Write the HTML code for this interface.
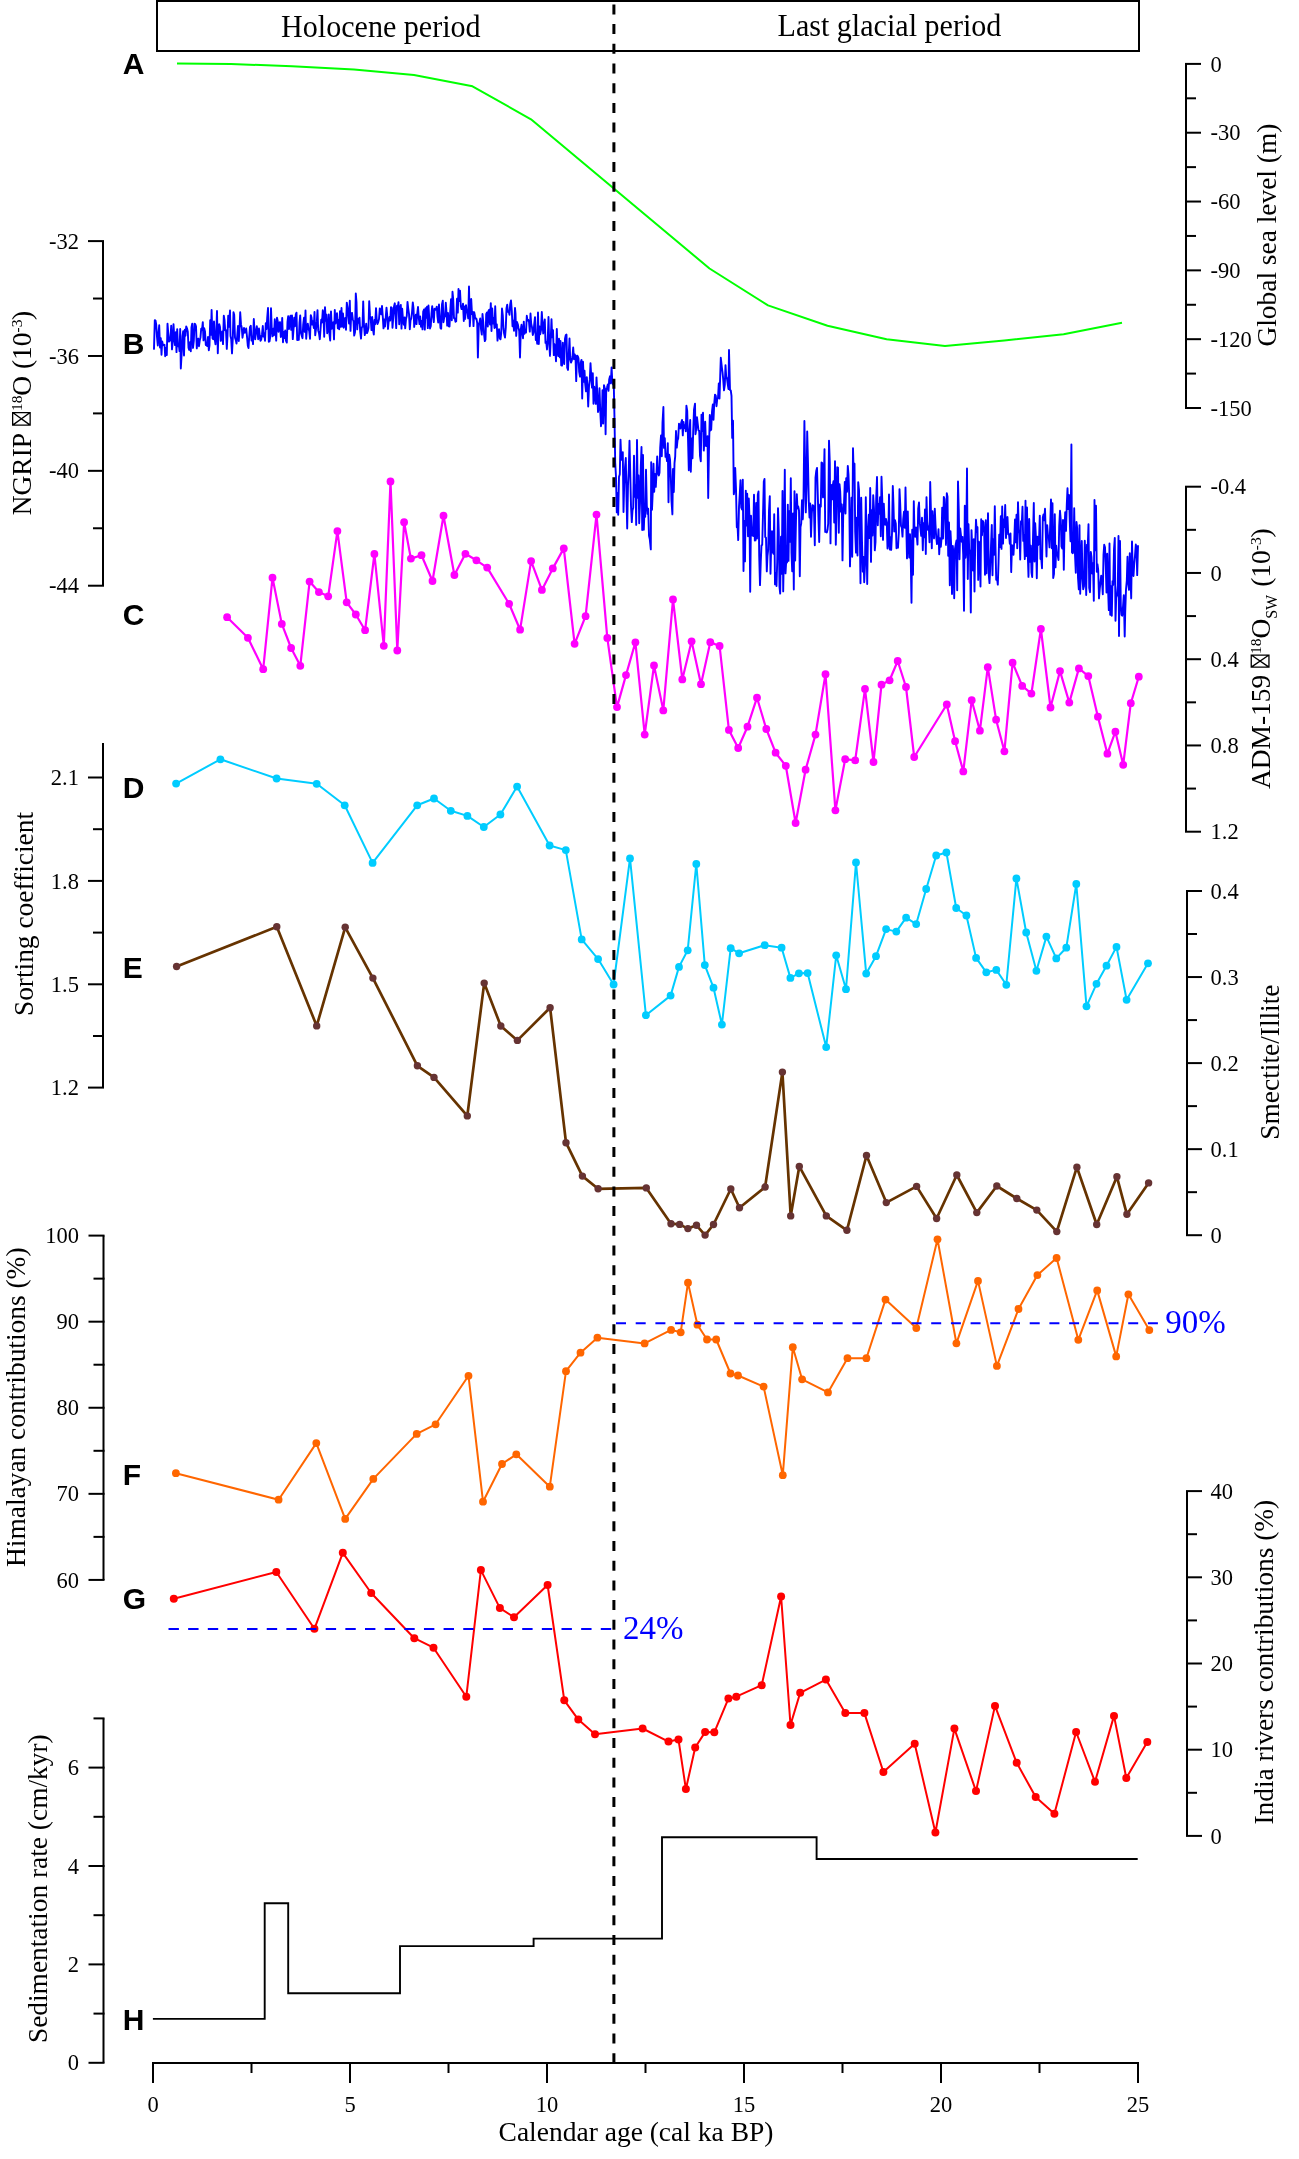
<!DOCTYPE html>
<html><head><meta charset="utf-8"><style>
html,body{margin:0;padding:0;background:#fff;overflow:hidden;}
svg{display:block;will-change:transform;}
</style></head><body>
<svg width="1299" height="2159" viewBox="0 0 1299 2159">
<rect width="100%" height="100%" fill="#fff"/>
<rect x="157" y="1" width="982" height="50" fill="none" stroke="#000" stroke-width="2"/>
<text transform="translate(281.00,37.00) scale(1.0000,1.0800)" font-family="'Liberation Serif', serif" font-size="30.1" font-weight="normal" fill="#000" text-anchor="start">Holocene period</text>
<text transform="translate(777.50,36.20) scale(1.0000,1.0800)" font-family="'Liberation Serif', serif" font-size="30.1" font-weight="normal" fill="#000" text-anchor="start">Last glacial period</text>
<line x1="1186.00" y1="63.90" x2="1186.00" y2="408.00" stroke="#000" stroke-width="2" />
<line x1="1185.00" y1="63.90" x2="1201.00" y2="63.90" stroke="#000" stroke-width="2" />
<line x1="1185.00" y1="132.72" x2="1201.00" y2="132.72" stroke="#000" stroke-width="2" />
<line x1="1185.00" y1="201.54" x2="1201.00" y2="201.54" stroke="#000" stroke-width="2" />
<line x1="1185.00" y1="270.36" x2="1201.00" y2="270.36" stroke="#000" stroke-width="2" />
<line x1="1185.00" y1="339.18" x2="1201.00" y2="339.18" stroke="#000" stroke-width="2" />
<line x1="1185.00" y1="408.00" x2="1201.00" y2="408.00" stroke="#000" stroke-width="2" />
<line x1="1185.00" y1="98.31" x2="1196.00" y2="98.31" stroke="#000" stroke-width="2" />
<line x1="1185.00" y1="167.13" x2="1196.00" y2="167.13" stroke="#000" stroke-width="2" />
<line x1="1185.00" y1="235.95" x2="1196.00" y2="235.95" stroke="#000" stroke-width="2" />
<line x1="1185.00" y1="304.77" x2="1196.00" y2="304.77" stroke="#000" stroke-width="2" />
<line x1="1185.00" y1="373.59" x2="1196.00" y2="373.59" stroke="#000" stroke-width="2" />
<text x="1210.50" y="71.50" font-family="'Liberation Serif', serif" font-size="22.5" font-weight="normal" fill="#000" text-anchor="start" >0</text>
<text x="1210.50" y="140.32" font-family="'Liberation Serif', serif" font-size="22.5" font-weight="normal" fill="#000" text-anchor="start" >-30</text>
<text x="1210.50" y="209.14" font-family="'Liberation Serif', serif" font-size="22.5" font-weight="normal" fill="#000" text-anchor="start" >-60</text>
<text x="1210.50" y="277.96" font-family="'Liberation Serif', serif" font-size="22.5" font-weight="normal" fill="#000" text-anchor="start" >-90</text>
<text x="1210.50" y="346.78" font-family="'Liberation Serif', serif" font-size="22.5" font-weight="normal" fill="#000" text-anchor="start" >-120</text>
<text x="1210.50" y="415.60" font-family="'Liberation Serif', serif" font-size="22.5" font-weight="normal" fill="#000" text-anchor="start" >-150</text>
<line x1="103.00" y1="241.10" x2="103.00" y2="585.71" stroke="#000" stroke-width="2" />
<line x1="88.00" y1="241.10" x2="104.00" y2="241.10" stroke="#000" stroke-width="2" />
<line x1="88.00" y1="355.97" x2="104.00" y2="355.97" stroke="#000" stroke-width="2" />
<line x1="88.00" y1="470.84" x2="104.00" y2="470.84" stroke="#000" stroke-width="2" />
<line x1="88.00" y1="585.71" x2="104.00" y2="585.71" stroke="#000" stroke-width="2" />
<line x1="93.00" y1="298.53" x2="104.00" y2="298.53" stroke="#000" stroke-width="2" />
<line x1="93.00" y1="413.40" x2="104.00" y2="413.40" stroke="#000" stroke-width="2" />
<line x1="93.00" y1="528.27" x2="104.00" y2="528.27" stroke="#000" stroke-width="2" />
<text x="78.90" y="248.70" font-family="'Liberation Serif', serif" font-size="22.5" font-weight="normal" fill="#000" text-anchor="end" >-32</text>
<text x="78.90" y="363.57" font-family="'Liberation Serif', serif" font-size="22.5" font-weight="normal" fill="#000" text-anchor="end" >-36</text>
<text x="78.90" y="478.44" font-family="'Liberation Serif', serif" font-size="22.5" font-weight="normal" fill="#000" text-anchor="end" >-40</text>
<text x="78.90" y="593.31" font-family="'Liberation Serif', serif" font-size="22.5" font-weight="normal" fill="#000" text-anchor="end" >-44</text>
<line x1="1186.00" y1="486.70" x2="1186.00" y2="831.70" stroke="#000" stroke-width="2" />
<line x1="1185.00" y1="486.70" x2="1201.00" y2="486.70" stroke="#000" stroke-width="2" />
<line x1="1185.00" y1="572.95" x2="1201.00" y2="572.95" stroke="#000" stroke-width="2" />
<line x1="1185.00" y1="659.20" x2="1201.00" y2="659.20" stroke="#000" stroke-width="2" />
<line x1="1185.00" y1="745.45" x2="1201.00" y2="745.45" stroke="#000" stroke-width="2" />
<line x1="1185.00" y1="831.70" x2="1201.00" y2="831.70" stroke="#000" stroke-width="2" />
<line x1="1185.00" y1="529.83" x2="1196.00" y2="529.83" stroke="#000" stroke-width="2" />
<line x1="1185.00" y1="616.08" x2="1196.00" y2="616.08" stroke="#000" stroke-width="2" />
<line x1="1185.00" y1="702.33" x2="1196.00" y2="702.33" stroke="#000" stroke-width="2" />
<line x1="1185.00" y1="788.58" x2="1196.00" y2="788.58" stroke="#000" stroke-width="2" />
<text x="1210.50" y="494.30" font-family="'Liberation Serif', serif" font-size="22.5" font-weight="normal" fill="#000" text-anchor="start" >-0.4</text>
<text x="1210.50" y="580.55" font-family="'Liberation Serif', serif" font-size="22.5" font-weight="normal" fill="#000" text-anchor="start" >0</text>
<text x="1210.50" y="666.80" font-family="'Liberation Serif', serif" font-size="22.5" font-weight="normal" fill="#000" text-anchor="start" >0.4</text>
<text x="1210.50" y="753.05" font-family="'Liberation Serif', serif" font-size="22.5" font-weight="normal" fill="#000" text-anchor="start" >0.8</text>
<text x="1210.50" y="839.30" font-family="'Liberation Serif', serif" font-size="22.5" font-weight="normal" fill="#000" text-anchor="start" >1.2</text>
<line x1="103.00" y1="743.00" x2="103.00" y2="1087.60" stroke="#000" stroke-width="2" />
<line x1="88.00" y1="777.50" x2="104.00" y2="777.50" stroke="#000" stroke-width="2" />
<line x1="88.00" y1="880.90" x2="104.00" y2="880.90" stroke="#000" stroke-width="2" />
<line x1="88.00" y1="984.30" x2="104.00" y2="984.30" stroke="#000" stroke-width="2" />
<line x1="88.00" y1="1087.60" x2="104.00" y2="1087.60" stroke="#000" stroke-width="2" />
<line x1="93.00" y1="829.20" x2="104.00" y2="829.20" stroke="#000" stroke-width="2" />
<line x1="93.00" y1="932.60" x2="104.00" y2="932.60" stroke="#000" stroke-width="2" />
<line x1="93.00" y1="1036.00" x2="104.00" y2="1036.00" stroke="#000" stroke-width="2" />
<text x="78.90" y="785.10" font-family="'Liberation Serif', serif" font-size="22.5" font-weight="normal" fill="#000" text-anchor="end" >2.1</text>
<text x="78.90" y="888.50" font-family="'Liberation Serif', serif" font-size="22.5" font-weight="normal" fill="#000" text-anchor="end" >1.8</text>
<text x="78.90" y="991.90" font-family="'Liberation Serif', serif" font-size="22.5" font-weight="normal" fill="#000" text-anchor="end" >1.5</text>
<text x="78.90" y="1095.20" font-family="'Liberation Serif', serif" font-size="22.5" font-weight="normal" fill="#000" text-anchor="end" >1.2</text>
<line x1="1187.00" y1="891.00" x2="1187.00" y2="1235.20" stroke="#000" stroke-width="2" />
<line x1="1186.00" y1="891.00" x2="1202.00" y2="891.00" stroke="#000" stroke-width="2" />
<line x1="1186.00" y1="977.05" x2="1202.00" y2="977.05" stroke="#000" stroke-width="2" />
<line x1="1186.00" y1="1063.10" x2="1202.00" y2="1063.10" stroke="#000" stroke-width="2" />
<line x1="1186.00" y1="1149.15" x2="1202.00" y2="1149.15" stroke="#000" stroke-width="2" />
<line x1="1186.00" y1="1235.20" x2="1202.00" y2="1235.20" stroke="#000" stroke-width="2" />
<line x1="1186.00" y1="934.02" x2="1197.00" y2="934.02" stroke="#000" stroke-width="2" />
<line x1="1186.00" y1="1020.08" x2="1197.00" y2="1020.08" stroke="#000" stroke-width="2" />
<line x1="1186.00" y1="1106.12" x2="1197.00" y2="1106.12" stroke="#000" stroke-width="2" />
<line x1="1186.00" y1="1192.17" x2="1197.00" y2="1192.17" stroke="#000" stroke-width="2" />
<text x="1210.50" y="898.60" font-family="'Liberation Serif', serif" font-size="22.5" font-weight="normal" fill="#000" text-anchor="start" >0.4</text>
<text x="1210.50" y="984.65" font-family="'Liberation Serif', serif" font-size="22.5" font-weight="normal" fill="#000" text-anchor="start" >0.3</text>
<text x="1210.50" y="1070.70" font-family="'Liberation Serif', serif" font-size="22.5" font-weight="normal" fill="#000" text-anchor="start" >0.2</text>
<text x="1210.50" y="1156.75" font-family="'Liberation Serif', serif" font-size="22.5" font-weight="normal" fill="#000" text-anchor="start" >0.1</text>
<text x="1210.50" y="1242.80" font-family="'Liberation Serif', serif" font-size="22.5" font-weight="normal" fill="#000" text-anchor="start" >0</text>
<line x1="103.50" y1="1235.60" x2="103.50" y2="1579.92" stroke="#000" stroke-width="2" />
<line x1="88.50" y1="1235.60" x2="104.50" y2="1235.60" stroke="#000" stroke-width="2" />
<line x1="88.50" y1="1321.68" x2="104.50" y2="1321.68" stroke="#000" stroke-width="2" />
<line x1="88.50" y1="1407.76" x2="104.50" y2="1407.76" stroke="#000" stroke-width="2" />
<line x1="88.50" y1="1493.84" x2="104.50" y2="1493.84" stroke="#000" stroke-width="2" />
<line x1="88.50" y1="1579.92" x2="104.50" y2="1579.92" stroke="#000" stroke-width="2" />
<line x1="93.50" y1="1278.64" x2="104.50" y2="1278.64" stroke="#000" stroke-width="2" />
<line x1="93.50" y1="1364.72" x2="104.50" y2="1364.72" stroke="#000" stroke-width="2" />
<line x1="93.50" y1="1450.80" x2="104.50" y2="1450.80" stroke="#000" stroke-width="2" />
<line x1="93.50" y1="1536.88" x2="104.50" y2="1536.88" stroke="#000" stroke-width="2" />
<text x="78.90" y="1243.20" font-family="'Liberation Serif', serif" font-size="22.5" font-weight="normal" fill="#000" text-anchor="end" >100</text>
<text x="78.90" y="1329.28" font-family="'Liberation Serif', serif" font-size="22.5" font-weight="normal" fill="#000" text-anchor="end" >90</text>
<text x="78.90" y="1415.36" font-family="'Liberation Serif', serif" font-size="22.5" font-weight="normal" fill="#000" text-anchor="end" >80</text>
<text x="78.90" y="1501.44" font-family="'Liberation Serif', serif" font-size="22.5" font-weight="normal" fill="#000" text-anchor="end" >70</text>
<text x="78.90" y="1587.52" font-family="'Liberation Serif', serif" font-size="22.5" font-weight="normal" fill="#000" text-anchor="end" >60</text>
<line x1="1187.00" y1="1491.10" x2="1187.00" y2="1835.90" stroke="#000" stroke-width="2" />
<line x1="1186.00" y1="1491.10" x2="1202.00" y2="1491.10" stroke="#000" stroke-width="2" />
<line x1="1186.00" y1="1577.30" x2="1202.00" y2="1577.30" stroke="#000" stroke-width="2" />
<line x1="1186.00" y1="1663.50" x2="1202.00" y2="1663.50" stroke="#000" stroke-width="2" />
<line x1="1186.00" y1="1749.70" x2="1202.00" y2="1749.70" stroke="#000" stroke-width="2" />
<line x1="1186.00" y1="1835.90" x2="1202.00" y2="1835.90" stroke="#000" stroke-width="2" />
<line x1="1186.00" y1="1534.20" x2="1197.00" y2="1534.20" stroke="#000" stroke-width="2" />
<line x1="1186.00" y1="1620.40" x2="1197.00" y2="1620.40" stroke="#000" stroke-width="2" />
<line x1="1186.00" y1="1706.60" x2="1197.00" y2="1706.60" stroke="#000" stroke-width="2" />
<line x1="1186.00" y1="1792.80" x2="1197.00" y2="1792.80" stroke="#000" stroke-width="2" />
<text x="1210.50" y="1498.70" font-family="'Liberation Serif', serif" font-size="22.5" font-weight="normal" fill="#000" text-anchor="start" >40</text>
<text x="1210.50" y="1584.90" font-family="'Liberation Serif', serif" font-size="22.5" font-weight="normal" fill="#000" text-anchor="start" >30</text>
<text x="1210.50" y="1671.10" font-family="'Liberation Serif', serif" font-size="22.5" font-weight="normal" fill="#000" text-anchor="start" >20</text>
<text x="1210.50" y="1757.30" font-family="'Liberation Serif', serif" font-size="22.5" font-weight="normal" fill="#000" text-anchor="start" >10</text>
<text x="1210.50" y="1843.50" font-family="'Liberation Serif', serif" font-size="22.5" font-weight="normal" fill="#000" text-anchor="start" >0</text>
<line x1="103.50" y1="1718.40" x2="103.50" y2="2062.80" stroke="#000" stroke-width="2" />
<line x1="88.50" y1="2062.80" x2="104.50" y2="2062.80" stroke="#000" stroke-width="2" />
<line x1="88.50" y1="1964.40" x2="104.50" y2="1964.40" stroke="#000" stroke-width="2" />
<line x1="88.50" y1="1866.00" x2="104.50" y2="1866.00" stroke="#000" stroke-width="2" />
<line x1="88.50" y1="1767.60" x2="104.50" y2="1767.60" stroke="#000" stroke-width="2" />
<line x1="93.50" y1="2013.60" x2="104.50" y2="2013.60" stroke="#000" stroke-width="2" />
<line x1="93.50" y1="1915.20" x2="104.50" y2="1915.20" stroke="#000" stroke-width="2" />
<line x1="93.50" y1="1816.80" x2="104.50" y2="1816.80" stroke="#000" stroke-width="2" />
<line x1="93.50" y1="1718.40" x2="104.50" y2="1718.40" stroke="#000" stroke-width="2" />
<text x="78.90" y="2070.40" font-family="'Liberation Serif', serif" font-size="22.5" font-weight="normal" fill="#000" text-anchor="end" >0</text>
<text x="78.90" y="1972.00" font-family="'Liberation Serif', serif" font-size="22.5" font-weight="normal" fill="#000" text-anchor="end" >2</text>
<text x="78.90" y="1873.60" font-family="'Liberation Serif', serif" font-size="22.5" font-weight="normal" fill="#000" text-anchor="end" >4</text>
<text x="78.90" y="1775.20" font-family="'Liberation Serif', serif" font-size="22.5" font-weight="normal" fill="#000" text-anchor="end" >6</text>
<line x1="153.00" y1="2063.00" x2="1138.00" y2="2063.00" stroke="#000" stroke-width="2" />
<line x1="153.00" y1="2062.00" x2="153.00" y2="2083.00" stroke="#000" stroke-width="2" />
<text x="153.00" y="2112.30" font-family="'Liberation Serif', serif" font-size="22.5" font-weight="normal" fill="#000" text-anchor="middle" >0</text>
<line x1="350.00" y1="2062.00" x2="350.00" y2="2083.00" stroke="#000" stroke-width="2" />
<text x="350.00" y="2112.30" font-family="'Liberation Serif', serif" font-size="22.5" font-weight="normal" fill="#000" text-anchor="middle" >5</text>
<line x1="547.00" y1="2062.00" x2="547.00" y2="2083.00" stroke="#000" stroke-width="2" />
<text x="547.00" y="2112.30" font-family="'Liberation Serif', serif" font-size="22.5" font-weight="normal" fill="#000" text-anchor="middle" >10</text>
<line x1="744.00" y1="2062.00" x2="744.00" y2="2083.00" stroke="#000" stroke-width="2" />
<text x="744.00" y="2112.30" font-family="'Liberation Serif', serif" font-size="22.5" font-weight="normal" fill="#000" text-anchor="middle" >15</text>
<line x1="941.00" y1="2062.00" x2="941.00" y2="2083.00" stroke="#000" stroke-width="2" />
<text x="941.00" y="2112.30" font-family="'Liberation Serif', serif" font-size="22.5" font-weight="normal" fill="#000" text-anchor="middle" >20</text>
<line x1="1138.00" y1="2062.00" x2="1138.00" y2="2083.00" stroke="#000" stroke-width="2" />
<text x="1138.00" y="2112.30" font-family="'Liberation Serif', serif" font-size="22.5" font-weight="normal" fill="#000" text-anchor="middle" >25</text>
<line x1="251.50" y1="2062.00" x2="251.50" y2="2073.00" stroke="#000" stroke-width="2" />
<line x1="448.50" y1="2062.00" x2="448.50" y2="2073.00" stroke="#000" stroke-width="2" />
<line x1="645.50" y1="2062.00" x2="645.50" y2="2073.00" stroke="#000" stroke-width="2" />
<line x1="842.50" y1="2062.00" x2="842.50" y2="2073.00" stroke="#000" stroke-width="2" />
<line x1="1039.50" y1="2062.00" x2="1039.50" y2="2073.00" stroke="#000" stroke-width="2" />
<text x="636.00" y="2140.50" font-family="'Liberation Serif', serif" font-size="27.5" font-weight="normal" fill="#000" text-anchor="middle" >Calendar age (cal ka BP)</text>
<g transform="translate(30.80,0) rotate(-90)" font-family="'Liberation Serif', serif" fill="#000"><text x="-515.19" y="0.00" font-size="27.4">NGRIP</text><text x="-410.96" y="-8.80" font-size="15.5">18</text><text x="-395.82" y="0.00" font-size="27.4">O</text><text x="-369.00" y="0.00" font-size="27.4">(10</text><text x="-332.38" y="-8.80" font-size="15.5">-3</text><text x="-319.98" y="0.00" font-size="27.4">)</text><path d="M-425.15,-18.15 H-412.55 V-0.65 H-425.15 Z M-425.15,-18.15 L-412.55,-0.65 M-425.15,-0.65 L-412.55,-18.15" fill="none" stroke="#000" stroke-width="1.3"/></g>
<g transform="translate(1269.60,0) rotate(-90)" font-family="'Liberation Serif', serif" fill="#000"><text x="-788.97" y="0.00" font-size="27.4">ADM-159</text><text x="-653.96" y="-8.80" font-size="15.5">18</text><text x="-638.52" y="0.00" font-size="27.4">O</text><text x="-618.87" y="7.30" font-size="16">SW</text><text x="-586.80" y="0.00" font-size="27.4">(10</text><text x="-550.18" y="-8.80" font-size="15.5">-3</text><text x="-537.58" y="0.00" font-size="27.4">)</text><path d="M-667.15,-18.35 H-655.05 V-0.65 H-667.15 Z M-667.15,-18.35 L-655.05,-0.65 M-667.15,-0.65 L-655.05,-18.35" fill="none" stroke="#000" stroke-width="1.3"/></g>
<text transform="translate(32.90,914.05) rotate(-90)" font-family="'Liberation Serif', serif" font-size="27.4" text-anchor="middle" fill="#000">Sorting coefficient</text>
<text transform="translate(25.00,1407.20) rotate(-90)" font-family="'Liberation Serif', serif" font-size="27.4" text-anchor="middle" fill="#000">Himalayan contributions (%)</text>
<text transform="translate(47.00,1888.70) rotate(-90)" font-family="'Liberation Serif', serif" font-size="27.4" text-anchor="middle" fill="#000">Sedimentation rate (cm/kyr)</text>
<text transform="translate(1275.50,235.10) rotate(-90)" font-family="'Liberation Serif', serif" font-size="27.4" text-anchor="middle" fill="#000">Global sea level (m)</text>
<text transform="translate(1279.30,1062.10) rotate(-90)" font-family="'Liberation Serif', serif" font-size="27.4" text-anchor="middle" fill="#000">Smectite/Illite</text>
<text transform="translate(1273.10,1662.20) rotate(-90)" font-family="'Liberation Serif', serif" font-size="27.4" text-anchor="middle" fill="#000">India rivers contributions (%)</text>
<text x="122.80" y="73.80" font-family="'Liberation Sans', sans-serif" font-size="30" font-weight="bold" fill="#000" text-anchor="start" >A</text>
<text x="122.80" y="353.80" font-family="'Liberation Sans', sans-serif" font-size="30" font-weight="bold" fill="#000" text-anchor="start" >B</text>
<text x="122.80" y="624.60" font-family="'Liberation Sans', sans-serif" font-size="30" font-weight="bold" fill="#000" text-anchor="start" >C</text>
<text x="122.80" y="797.90" font-family="'Liberation Sans', sans-serif" font-size="30" font-weight="bold" fill="#000" text-anchor="start" >D</text>
<text x="122.80" y="977.70" font-family="'Liberation Sans', sans-serif" font-size="30" font-weight="bold" fill="#000" text-anchor="start" >E</text>
<text x="122.80" y="1485.00" font-family="'Liberation Sans', sans-serif" font-size="30" font-weight="bold" fill="#000" text-anchor="start" >F</text>
<text x="122.80" y="1608.50" font-family="'Liberation Sans', sans-serif" font-size="30" font-weight="bold" fill="#000" text-anchor="start" >G</text>
<text x="122.80" y="2029.70" font-family="'Liberation Sans', sans-serif" font-size="30" font-weight="bold" fill="#000" text-anchor="start" >H</text>
<polyline points="177.0,63.5 231.0,64.0 292.0,66.3 354.0,69.4 414.0,75.0 472.5,86.3 531.0,119.3 709.5,268.5 768.0,305.4 827.5,325.7 886.6,339.2 945.0,346.0 1004.3,340.5 1063.6,334.2 1122.0,322.7" fill="none" stroke="#00FF00" stroke-width="2" stroke-linejoin="round"  stroke-linecap="butt"/>
<polyline points="154.0,348.9 154.8,320.1 155.5,320.5 156.2,324.3 157.0,336.9 157.8,345.5 158.5,333.4 159.2,325.3 160.0,347.5 160.8,338.3 161.5,354.8 162.2,341.4 163.0,345.2 163.8,345.0 164.5,344.8 165.2,356.2 166.0,348.0 166.8,355.1 167.5,323.7 168.2,332.5 169.0,341.6 169.8,340.6 170.5,337.4 171.2,325.8 172.0,349.4 172.8,341.5 173.5,324.1 174.2,335.6 175.0,345.1 175.8,332.2 176.5,352.1 177.2,329.1 178.0,346.3 178.8,343.8 179.5,351.1 180.2,329.0 180.8,368.5 181.8,351.1 182.5,336.1 183.2,331.1 184.0,355.5 184.8,329.8 185.5,335.8 186.2,326.5 187.0,328.3 187.8,331.8 188.5,347.6 189.2,349.9 190.0,342.3 190.8,351.2 191.5,327.1 192.2,323.8 193.0,348.0 193.8,340.9 194.5,323.7 195.2,324.1 196.0,326.4 196.8,348.4 197.5,339.2 198.2,338.6 199.0,346.2 199.8,340.2 200.5,337.2 201.2,328.7 202.0,330.1 202.8,322.1 203.5,340.4 204.2,328.3 205.0,331.4 205.8,345.0 206.5,344.8 207.2,346.1 208.0,337.0 208.8,350.3 209.5,345.3 210.2,320.2 211.0,334.7 211.6,310.0 212.5,338.2 213.2,339.2 214.0,321.4 214.8,339.6 215.5,344.4 216.2,334.4 217.0,311.0 217.8,353.2 218.5,331.8 219.2,324.1 220.0,327.0 220.8,340.9 221.5,334.0 222.2,331.4 223.0,344.1 223.8,315.7 224.5,319.8 225.2,330.3 226.0,330.2 226.8,348.9 227.5,335.8 228.2,315.8 229.0,326.9 230.0,310.5 230.5,336.1 231.2,338.9 232.0,353.4 232.8,338.3 233.5,312.3 234.2,314.8 235.0,337.8 235.8,340.1 236.5,343.6 237.2,336.1 238.0,326.0 238.8,341.0 239.5,329.2 240.2,312.2 241.0,324.4 241.8,327.9 242.5,337.7 243.2,332.7 244.0,327.9 244.8,332.9 245.5,331.6 246.2,328.5 247.0,336.7 247.8,345.7 248.5,348.1 249.2,337.0 250.0,327.1 250.8,325.8 251.5,340.5 252.2,336.8 253.0,344.1 253.8,319.0 254.5,329.7 255.2,339.3 256.0,332.1 256.8,326.1 257.5,331.7 258.2,339.2 259.0,328.5 259.8,336.0 260.5,340.9 261.2,339.5 262.0,334.4 262.8,326.0 263.5,336.6 264.2,333.5 265.0,340.7 265.8,323.1 266.5,329.1 267.2,318.0 268.0,308.0 268.8,341.8 269.5,341.4 270.2,337.2 271.0,308.2 271.8,330.0 272.5,336.3 273.2,328.7 274.0,335.2 274.8,319.3 275.5,328.2 276.2,340.6 277.0,317.8 277.8,321.5 278.5,331.7 279.2,322.9 280.0,322.1 280.8,337.0 281.5,333.9 282.2,317.9 283.0,342.2 283.8,332.0 284.5,338.1 285.2,330.5 286.0,340.9 286.8,342.6 287.5,321.8 288.2,316.1 289.0,329.0 289.8,319.5 290.5,315.7 291.2,329.9 292.0,315.5 292.8,339.1 293.5,329.7 294.2,317.7 295.0,326.2 295.8,314.1 296.5,312.7 297.2,340.1 298.0,339.1 298.8,339.9 299.5,322.9 300.2,315.4 301.0,333.2 301.8,335.9 302.5,338.2 303.2,324.6 304.0,317.8 304.8,331.9 305.5,310.5 306.2,338.7 307.0,328.2 307.8,323.7 308.5,328.3 309.2,331.0 310.0,338.7 310.8,315.1 311.5,317.5 312.2,324.6 313.0,321.2 313.8,328.0 314.5,312.0 315.2,335.3 316.0,328.9 316.8,321.9 317.5,310.1 318.2,330.4 319.0,333.2 319.8,339.3 320.5,329.6 321.2,319.8 322.0,322.5 322.8,310.2 323.5,315.9 324.2,336.7 325.0,307.3 325.8,320.8 326.5,314.7 327.2,333.2 328.0,330.3 328.8,314.5 329.5,334.7 330.2,340.5 331.0,311.4 331.8,328.7 332.5,323.1 333.2,322.3 334.0,339.4 334.8,310.0 335.5,323.6 336.2,319.1 337.0,313.2 337.8,328.2 338.5,320.3 339.2,329.3 340.0,311.1 340.8,326.7 341.5,308.0 342.2,326.6 343.0,313.5 343.8,327.7 344.5,322.5 345.2,318.0 346.0,329.7 346.8,302.6 347.5,307.2 348.2,314.6 349.0,323.5 349.8,300.8 350.5,330.9 351.2,314.1 352.0,312.9 352.8,319.2 353.5,321.4 354.2,335.6 355.0,332.3 355.8,293.5 356.5,302.4 357.2,329.4 358.0,318.9 358.8,322.9 359.5,317.6 360.2,331.7 361.0,338.6 361.8,327.3 362.5,326.8 363.2,301.4 364.0,325.2 364.8,335.1 365.5,330.2 366.2,323.7 367.0,333.1 367.8,331.1 368.5,327.8 369.2,301.2 370.0,315.9 370.8,319.9 371.5,330.1 372.2,317.0 373.0,329.7 373.8,334.6 374.5,320.0 375.2,324.3 376.0,308.1 376.8,320.5 377.5,324.0 378.2,322.2 379.0,319.0 379.8,308.4 380.5,311.7 381.2,314.3 382.0,306.0 382.8,316.9 383.5,328.4 384.2,319.4 385.0,326.6 385.8,316.6 386.5,307.6 387.2,315.2 388.0,329.0 388.8,320.0 389.5,317.0 390.2,320.6 391.0,307.1 391.8,308.0 392.5,327.8 393.2,317.9 394.0,306.5 394.8,303.3 395.5,315.3 396.2,328.1 397.0,305.7 397.8,308.0 398.5,302.2 399.2,324.3 400.0,308.1 400.8,304.9 401.5,328.6 402.2,308.7 403.0,319.7 403.8,324.7 404.5,317.4 405.2,328.4 406.0,319.2 406.8,315.8 407.5,301.9 408.2,308.3 409.0,313.9 409.8,329.2 410.5,320.4 411.2,318.7 412.0,312.5 412.8,302.4 413.5,308.0 414.2,327.0 415.0,320.7 415.8,314.8 416.5,324.1 417.2,313.9 418.0,307.0 418.8,318.1 419.5,324.1 420.2,316.5 421.0,326.7 421.8,320.9 422.5,329.4 423.2,311.6 424.0,309.6 424.8,329.6 425.5,308.2 426.2,317.9 427.0,306.7 427.8,328.1 428.5,305.5 429.2,317.8 430.0,328.5 430.8,325.9 431.5,313.5 432.2,306.1 433.0,315.5 433.8,322.1 434.5,308.7 435.2,309.9 436.0,309.1 436.8,306.6 437.5,316.9 438.2,322.5 439.0,304.5 439.8,317.4 440.5,328.1 441.2,328.7 442.0,304.2 442.8,300.7 443.5,322.2 444.2,317.4 445.0,316.2 445.8,302.7 446.5,311.7 447.2,325.6 448.0,313.0 448.8,326.4 449.5,326.6 450.2,311.7 451.0,299.2 451.8,320.3 452.5,291.8 453.2,299.0 454.0,318.3 454.8,318.5 455.5,321.7 456.2,321.2 457.0,298.7 457.8,312.6 458.5,289.0 459.2,301.1 460.0,290.6 460.8,306.0 461.5,309.0 462.2,308.8 463.0,303.6 463.8,321.0 464.5,306.5 465.2,318.9 466.0,305.1 466.8,312.1 467.5,312.7 468.2,318.4 469.0,286.4 469.8,326.3 470.5,315.0 471.2,299.0 472.0,314.1 472.8,311.8 473.5,326.1 474.2,312.1 475.0,316.2 475.8,318.8 476.5,318.9 477.2,323.1 477.9,357.5 478.8,323.7 479.5,322.5 480.2,318.5 481.0,329.0 481.8,334.6 482.5,314.0 483.2,321.5 484.0,333.3 484.8,341.1 485.5,339.5 486.2,314.2 487.0,312.4 487.8,326.5 488.5,311.0 489.2,309.7 490.0,324.5 490.8,303.1 491.5,331.0 492.2,308.4 493.0,323.6 493.8,317.9 494.5,328.0 495.2,306.3 496.0,327.3 496.8,324.4 497.5,340.6 498.2,332.4 499.0,329.1 499.8,338.4 500.5,339.3 501.2,333.5 502.0,308.5 502.8,315.4 503.5,329.0 504.2,334.1 505.0,337.6 505.8,327.5 506.5,308.1 507.2,304.7 508.0,311.8 508.8,311.8 509.5,314.9 510.2,304.1 511.0,300.5 511.8,311.0 512.5,326.2 513.2,320.7 514.0,330.7 515.0,308.0 515.5,313.6 516.2,335.9 517.0,322.0 517.8,324.3 518.5,327.9 519.2,330.7 520.0,357.5 520.8,329.4 521.5,324.8 522.2,331.8 523.0,338.2 523.8,321.6 524.5,333.9 525.2,330.3 526.0,332.6 526.8,315.8 527.5,320.6 528.2,319.7 529.0,322.0 529.8,331.6 530.5,313.5 531.2,323.8 532.0,327.3 532.8,335.0 533.5,332.8 534.2,324.3 535.0,317.1 535.8,340.0 536.5,335.8 537.2,343.7 538.0,312.5 538.8,344.0 539.5,326.5 540.2,334.4 541.0,330.2 541.8,312.0 542.5,323.1 543.2,333.5 544.0,324.3 544.8,319.4 545.5,342.9 546.2,341.7 547.0,349.5 547.8,337.8 548.5,317.0 549.2,342.4 550.0,355.9 550.8,337.3 551.5,319.3 552.2,337.3 553.0,330.1 553.8,355.1 554.5,344.3 555.2,348.8 556.0,361.3 556.8,328.9 557.5,349.0 558.2,356.0 559.0,338.7 559.8,357.4 560.5,341.0 561.2,365.3 562.0,365.6 562.8,342.6 563.5,359.5 564.2,364.1 565.0,338.7 565.8,335.0 566.5,334.6 567.2,367.7 568.0,369.9 568.8,353.0 569.5,338.5 570.2,358.5 571.0,362.6 571.8,360.6 572.5,356.5 573.2,347.5 574.0,359.2 574.8,354.4 575.5,356.9 576.2,381.1 577.0,355.6 577.8,356.2 578.5,358.2 579.2,371.9 580.0,376.7 580.8,362.2 581.5,359.9 582.2,398.6 583.0,361.8 583.8,381.8 584.5,370.6 585.2,383.9 586.0,391.3 586.8,377.1 587.5,387.4 588.2,406.5 589.0,386.6 589.8,379.4 590.5,363.1 591.2,375.0 592.0,387.6 592.8,373.3 593.5,403.8 594.2,386.7 595.0,394.3 595.8,403.9 596.5,377.4 597.2,392.0 598.0,412.0 598.8,407.1 599.5,388.3 600.2,409.6 601.0,426.2 601.8,419.7 602.5,390.3 603.2,423.6 604.0,385.1 604.8,388.5 605.6,434.3 606.2,390.3 607.0,387.6 607.8,384.5 608.5,390.9 609.2,379.4 610.0,376.3 610.8,383.4 611.6,367.4 612.2,379.8 613.0,384.3 613.8,385.4 614.5,418.8 615.2,462.6 616.0,476.7 616.8,512.4 617.5,493.2 618.2,514.8 619.0,476.9 619.8,474.3 620.5,439.6 621.2,457.1 622.0,460.0 622.8,452.2 623.5,512.0 624.2,484.6 625.0,467.6 625.8,458.0 626.5,497.4 627.2,528.6 628.0,485.4 628.8,468.5 629.5,440.8 630.2,470.4 631.0,506.0 631.8,522.1 632.5,510.5 633.2,507.8 634.0,455.6 634.8,496.9 635.5,485.6 636.2,524.9 637.0,439.9 637.8,497.9 638.5,475.4 639.2,523.3 640.0,503.5 640.8,466.8 641.5,447.0 642.2,530.1 643.0,454.9 643.8,529.7 644.5,509.4 645.2,516.7 646.0,469.8 646.8,505.6 647.5,513.9 648.2,508.8 649.0,535.8 649.8,539.4 650.8,549.4 651.2,462.3 652.0,509.8 652.8,490.7 653.5,463.7 654.2,491.8 655.0,473.9 655.8,486.9 656.5,473.4 657.2,456.4 658.0,473.1 658.8,475.4 659.5,472.7 660.2,447.7 661.0,435.5 661.8,456.2 662.5,422.9 663.4,407.0 664.0,447.9 664.8,438.3 665.5,456.9 666.2,454.2 667.0,461.1 667.8,443.1 668.5,502.3 669.2,454.7 670.0,459.4 670.8,476.4 671.5,501.0 672.4,514.4 673.0,468.9 673.8,492.1 674.5,463.2 675.2,456.3 676.0,431.0 676.8,447.6 677.5,440.3 678.2,438.4 679.0,423.6 679.8,427.3 680.5,428.5 681.2,422.7 682.0,419.9 682.8,435.4 683.5,421.9 684.2,428.0 685.0,425.2 685.8,431.3 686.4,405.7 687.2,410.8 688.0,438.5 688.8,470.2 689.5,431.4 690.2,420.0 690.8,471.7 691.8,438.5 692.5,458.3 693.2,430.9 694.0,409.7 695.0,403.6 695.5,434.2 696.2,429.2 697.0,417.3 697.8,424.3 698.5,430.5 699.2,430.6 700.0,455.9 700.8,461.3 701.5,414.6 702.2,431.0 703.0,412.7 703.8,450.6 704.5,438.9 705.2,421.7 706.0,446.0 706.8,446.0 707.5,436.1 708.2,498.0 709.0,448.6 709.8,415.0 710.5,430.5 711.2,429.6 712.0,411.6 712.8,404.5 713.5,419.7 714.2,404.2 715.0,394.6 715.8,395.7 716.5,406.2 717.2,399.2 718.0,397.7 718.8,383.4 719.5,398.5 720.2,376.1 720.8,357.8 721.8,366.8 722.5,372.1 723.2,379.4 724.0,390.4 724.8,384.8 725.5,365.1 726.2,376.6 727.0,378.7 727.8,384.5 728.5,389.0 729.0,350.0 730.0,390.0 730.8,390.6 731.5,395.9 732.2,437.9 733.0,420.8 733.8,494.3 734.5,490.1 735.2,468.0 736.0,488.7 736.8,527.3 737.5,525.0 738.2,540.1 739.0,507.0 739.8,493.2 740.5,480.1 741.2,507.3 742.0,509.4 742.8,479.8 743.5,571.1 744.2,521.0 745.0,561.4 745.8,490.6 746.5,525.5 747.2,493.7 748.0,536.3 748.8,498.5 749.5,518.5 750.2,591.8 751.0,515.7 751.8,535.3 752.5,532.7 753.2,536.0 754.0,494.8 754.8,540.5 755.5,540.4 756.2,502.9 757.0,538.6 757.8,494.8 758.5,491.5 759.2,555.8 760.0,585.1 760.8,561.0 761.5,545.3 762.2,545.0 763.0,514.6 763.8,481.4 764.5,479.0 765.2,537.1 766.0,537.7 766.8,571.4 767.5,555.8 768.2,549.7 769.0,510.5 769.8,496.1 770.5,573.7 771.2,544.9 772.0,531.3 772.8,552.4 773.5,553.7 774.2,514.3 775.0,584.4 775.8,572.9 776.5,586.0 777.2,562.3 778.0,508.2 778.8,532.4 779.5,587.0 780.2,593.6 781.0,536.8 781.8,573.7 782.5,491.0 783.2,591.4 784.0,547.2 784.8,469.8 785.5,573.4 786.2,561.2 787.0,562.5 787.8,504.6 788.5,560.9 789.2,511.1 790.0,541.7 790.8,478.2 791.5,552.9 792.2,571.2 793.0,513.4 793.8,589.6 794.5,491.2 795.2,560.5 796.0,519.9 796.8,494.1 797.5,508.4 798.2,506.5 799.0,510.5 799.8,576.3 800.5,527.0 801.2,523.6 802.0,500.1 802.8,519.4 803.5,499.8 804.4,421.0 805.0,459.6 805.8,512.4 806.5,487.4 807.2,431.5 808.0,463.0 808.8,501.8 809.5,517.5 810.2,503.5 811.0,536.8 811.8,513.3 812.5,505.1 813.2,505.5 814.0,510.6 814.8,545.3 815.5,477.7 816.2,471.3 817.0,467.9 817.8,496.0 818.5,520.2 819.2,542.0 820.0,504.4 820.8,506.7 821.5,462.4 822.2,462.9 823.0,497.4 823.8,479.5 824.5,449.1 825.2,531.9 826.0,532.0 826.8,532.5 827.5,529.8 828.2,523.5 829.0,440.6 829.8,462.7 830.5,543.4 831.2,485.0 832.0,499.4 832.8,485.3 833.5,481.1 834.2,522.6 835.0,461.3 835.8,544.8 836.5,511.6 837.2,467.3 838.0,467.6 838.8,532.8 839.5,484.1 840.2,491.4 841.0,511.7 841.8,504.4 842.5,560.4 843.2,516.1 844.0,504.2 844.8,481.9 845.5,513.6 846.2,478.1 847.0,491.8 847.8,465.9 848.5,474.7 849.2,495.1 850.0,566.4 850.8,530.1 851.5,497.8 852.2,556.7 853.0,448.3 853.8,478.3 854.5,463.7 855.2,531.7 856.0,552.6 856.8,517.6 857.5,555.6 858.2,482.2 859.0,489.9 859.8,530.7 860.5,583.3 861.2,497.8 862.0,541.4 862.8,571.6 863.5,557.0 864.2,582.3 865.0,565.6 865.8,497.2 866.5,537.8 867.2,584.1 868.0,531.0 868.8,514.8 869.5,538.1 870.2,488.0 871.0,561.9 871.8,510.1 872.5,535.5 873.2,495.3 874.0,508.7 874.8,550.3 875.5,542.2 876.2,498.2 877.0,477.0 877.8,525.3 878.5,503.9 879.2,513.9 880.0,497.3 880.8,536.2 881.5,476.7 882.2,497.9 883.0,539.9 883.8,503.6 884.5,519.9 885.2,524.9 886.0,518.9 886.8,523.3 887.5,548.5 888.2,543.8 889.0,494.4 889.8,549.5 890.5,537.2 891.2,549.9 892.0,533.5 892.8,486.0 893.5,505.9 894.2,531.5 895.0,520.1 895.8,523.7 896.5,548.2 897.2,547.2 898.0,547.7 898.8,532.5 899.5,489.1 900.2,503.7 901.0,525.8 901.8,527.5 902.5,536.6 903.2,519.4 904.0,511.7 904.8,527.7 905.5,487.4 906.2,522.1 907.0,558.4 907.8,511.4 908.5,543.2 909.2,557.5 910.0,534.3 910.8,561.7 911.5,602.8 912.2,529.7 913.0,574.7 913.8,501.3 914.5,531.7 915.2,536.9 916.0,527.4 916.8,536.2 917.5,544.6 918.2,508.7 919.0,502.5 919.8,523.4 920.5,529.1 921.2,535.9 922.0,517.8 922.8,550.3 923.5,523.1 924.2,537.4 925.0,509.4 925.8,554.1 926.5,497.1 927.2,521.6 928.0,529.8 928.8,526.8 929.5,542.3 930.2,481.9 931.0,513.9 931.8,548.2 932.5,511.2 933.2,526.1 934.0,538.4 934.8,508.8 935.5,524.6 936.2,537.1 937.0,544.1 937.8,540.5 938.5,529.2 939.2,554.3 940.0,538.1 940.8,546.8 941.5,539.0 942.2,507.6 943.0,538.6 943.8,496.9 944.5,499.0 945.2,515.6 946.0,544.9 946.8,493.3 947.5,496.6 948.2,555.7 949.0,522.4 949.8,585.3 950.5,531.1 951.2,546.6 952.0,594.0 952.8,545.9 953.5,555.8 954.2,598.3 955.0,549.0 955.8,543.9 956.5,540.4 957.2,590.2 958.0,481.5 958.8,510.9 959.5,559.3 960.2,528.4 961.0,535.7 961.8,541.8 962.5,536.9 963.2,554.8 964.0,610.8 964.8,505.7 965.5,557.7 966.2,549.5 967.0,468.5 967.8,579.0 968.5,524.3 969.2,549.9 970.0,550.6 970.8,612.6 971.5,530.1 972.2,546.8 973.0,570.5 973.8,539.3 974.5,591.6 975.2,543.8 976.0,519.7 976.8,531.7 977.5,527.3 978.2,579.9 979.0,541.7 979.8,553.8 980.5,586.6 981.2,519.3 982.0,535.2 982.8,520.9 983.5,522.3 984.2,532.7 985.0,574.7 985.8,520.1 986.5,573.3 987.2,551.2 988.0,513.2 988.8,574.8 989.5,583.1 990.2,568.5 991.0,546.0 991.8,524.9 992.5,575.3 993.2,539.5 994.0,554.7 994.8,506.3 995.5,546.7 996.2,579.8 997.0,577.6 997.8,584.6 998.5,563.7 999.2,534.7 1000.0,547.1 1000.8,516.2 1001.5,548.9 1002.2,506.5 1003.0,543.6 1003.8,519.4 1004.5,527.1 1005.2,504.9 1006.0,538.0 1006.8,517.3 1007.5,517.0 1008.2,534.2 1009.0,534.2 1009.8,543.7 1010.5,533.5 1011.2,572.1 1012.0,545.1 1012.8,548.0 1013.5,554.7 1014.2,541.5 1015.0,519.5 1015.8,542.4 1016.5,514.8 1017.2,548.2 1018.0,502.3 1018.8,529.5 1019.5,533.3 1020.2,559.5 1021.0,521.1 1021.8,523.5 1022.5,506.7 1023.2,540.9 1024.0,535.2 1024.8,559.1 1025.5,500.8 1026.2,556.1 1027.0,507.4 1027.8,555.1 1028.5,576.9 1029.2,519.0 1030.0,561.7 1030.8,545.6 1031.5,572.6 1032.2,577.0 1033.0,538.1 1033.8,502.9 1034.5,561.5 1035.2,523.2 1036.0,538.6 1036.8,578.3 1037.5,536.7 1038.2,545.1 1039.0,542.1 1039.8,515.6 1040.5,559.1 1041.2,557.9 1042.0,568.2 1042.8,517.4 1043.5,514.5 1044.2,520.3 1045.0,508.8 1045.8,534.3 1046.5,556.5 1047.2,525.2 1048.0,535.9 1048.8,537.8 1049.5,547.4 1050.2,525.1 1051.0,499.4 1051.8,548.3 1052.5,503.3 1053.2,578.0 1054.0,573.8 1054.8,514.2 1055.5,567.4 1056.2,545.6 1057.0,555.4 1057.8,556.2 1058.5,560.0 1059.2,526.2 1060.0,510.8 1060.8,520.3 1061.5,546.5 1062.2,548.4 1063.0,520.0 1063.8,569.7 1064.5,529.7 1065.2,512.2 1066.0,530.9 1066.8,504.0 1067.5,488.2 1068.2,509.0 1069.0,495.0 1069.8,522.3 1070.5,541.2 1071.4,444.5 1072.0,552.6 1072.8,553.2 1073.5,550.2 1074.2,508.3 1075.0,554.6 1075.8,572.8 1076.5,522.0 1077.2,528.4 1078.0,577.7 1078.8,589.4 1079.5,525.3 1080.2,593.8 1081.0,560.3 1081.8,540.9 1082.5,578.9 1083.2,589.2 1084.0,586.3 1084.8,540.8 1085.5,560.6 1086.2,595.1 1087.0,544.6 1087.8,545.0 1088.5,524.3 1089.2,587.8 1090.0,592.3 1090.8,551.9 1091.5,557.1 1092.2,573.5 1093.0,563.3 1093.8,600.7 1094.5,500.0 1095.2,550.4 1096.0,505.8 1096.8,571.7 1097.5,564.3 1098.2,569.9 1099.0,598.4 1099.8,588.4 1100.5,582.2 1101.2,575.7 1102.0,581.1 1102.8,594.2 1103.5,554.9 1104.2,544.8 1105.0,547.3 1105.8,567.1 1106.5,592.5 1107.2,553.7 1108.0,587.5 1108.8,610.1 1109.5,543.4 1110.2,614.7 1111.0,586.2 1111.8,615.7 1112.5,581.1 1113.2,585.0 1114.0,549.0 1114.8,537.9 1115.5,620.7 1116.2,597.6 1117.0,595.1 1117.8,585.4 1118.5,535.9 1119.0,636.0 1120.0,541.0 1120.8,605.6 1121.5,614.8 1122.2,615.7 1123.0,606.9 1123.8,595.1 1124.7,636.5 1125.2,612.8 1126.0,589.6 1126.8,580.7 1127.5,556.7 1128.2,582.3 1129.0,589.8 1129.8,553.2 1130.5,579.2 1131.2,598.4 1132.0,541.5 1132.8,572.3 1133.5,576.0 1134.2,564.2 1135.0,555.5 1135.8,544.5 1136.5,548.9 1137.2,575.1 1138.0,545.9" fill="none" stroke="#0000FF" stroke-width="1.9" stroke-linejoin="round" stroke-linecap="round" />
<polyline points="227.1,617.2 247.9,637.8 263.2,669.2 272.5,577.7 281.8,623.9 291.1,648.0 300.3,665.8 309.6,581.6 318.9,592.1 328.2,596.3 337.4,531.1 346.7,602.3 355.8,614.5 365.1,630.2 374.4,554.0 383.8,645.8 390.5,481.5 397.3,650.5 404.1,522.2 410.9,558.6 421.5,555.2 432.5,581.0 443.5,515.7 454.4,575.0 465.4,553.8 476.4,560.3 487.2,567.6 509.1,603.8 520.1,629.7 531.1,561.1 541.9,589.9 552.8,568.4 563.8,548.4 574.6,643.8 585.6,616.2 596.5,514.6 607.3,637.9 617.0,707.1 626.0,675.1 635.4,642.3 644.7,734.6 654.0,665.5 663.3,710.4 673.0,599.5 682.3,679.4 691.6,641.3 701.0,684.2 710.3,642.2 719.6,646.0 728.9,729.9 738.2,748.0 747.5,726.7 757.0,697.7 766.3,729.0 775.6,752.7 785.8,765.8 795.6,823.0 805.6,769.7 815.5,734.6 825.5,674.2 835.4,810.3 845.2,759.2 855.2,760.4 865.0,688.9 873.5,762.0 881.5,684.7 889.6,680.3 897.7,661.0 906.0,687.0 914.2,757.0 946.8,704.5 955.1,741.2 963.3,771.4 971.7,700.2 979.9,730.7 987.8,667.2 996.1,719.7 1004.4,751.3 1012.6,662.7 1022.2,685.9 1031.4,693.6 1040.9,629.0 1050.5,707.5 1060.0,671.1 1069.3,702.6 1078.9,668.4 1088.3,676.1 1097.9,716.7 1107.4,753.7 1115.4,731.7 1123.2,764.8 1130.8,703.2 1138.8,676.7" fill="none" stroke="#FF00FF" stroke-width="2.2" stroke-linejoin="round" stroke-linecap="round" />
<g fill="#FF00FF"><circle cx="227.1" cy="617.2" r="3.9"/><circle cx="247.9" cy="637.8" r="3.9"/><circle cx="263.2" cy="669.2" r="3.9"/><circle cx="272.5" cy="577.7" r="3.9"/><circle cx="281.8" cy="623.9" r="3.9"/><circle cx="291.1" cy="648.0" r="3.9"/><circle cx="300.3" cy="665.8" r="3.9"/><circle cx="309.6" cy="581.6" r="3.9"/><circle cx="318.9" cy="592.1" r="3.9"/><circle cx="328.2" cy="596.3" r="3.9"/><circle cx="337.4" cy="531.1" r="3.9"/><circle cx="346.7" cy="602.3" r="3.9"/><circle cx="355.8" cy="614.5" r="3.9"/><circle cx="365.1" cy="630.2" r="3.9"/><circle cx="374.4" cy="554.0" r="3.9"/><circle cx="383.8" cy="645.8" r="3.9"/><circle cx="390.5" cy="481.5" r="3.9"/><circle cx="397.3" cy="650.5" r="3.9"/><circle cx="404.1" cy="522.2" r="3.9"/><circle cx="410.9" cy="558.6" r="3.9"/><circle cx="421.5" cy="555.2" r="3.9"/><circle cx="432.5" cy="581.0" r="3.9"/><circle cx="443.5" cy="515.7" r="3.9"/><circle cx="454.4" cy="575.0" r="3.9"/><circle cx="465.4" cy="553.8" r="3.9"/><circle cx="476.4" cy="560.3" r="3.9"/><circle cx="487.2" cy="567.6" r="3.9"/><circle cx="509.1" cy="603.8" r="3.9"/><circle cx="520.1" cy="629.7" r="3.9"/><circle cx="531.1" cy="561.1" r="3.9"/><circle cx="541.9" cy="589.9" r="3.9"/><circle cx="552.8" cy="568.4" r="3.9"/><circle cx="563.8" cy="548.4" r="3.9"/><circle cx="574.6" cy="643.8" r="3.9"/><circle cx="585.6" cy="616.2" r="3.9"/><circle cx="596.5" cy="514.6" r="3.9"/><circle cx="607.3" cy="637.9" r="3.9"/><circle cx="617.0" cy="707.1" r="3.9"/><circle cx="626.0" cy="675.1" r="3.9"/><circle cx="635.4" cy="642.3" r="3.9"/><circle cx="644.7" cy="734.6" r="3.9"/><circle cx="654.0" cy="665.5" r="3.9"/><circle cx="663.3" cy="710.4" r="3.9"/><circle cx="673.0" cy="599.5" r="3.9"/><circle cx="682.3" cy="679.4" r="3.9"/><circle cx="691.6" cy="641.3" r="3.9"/><circle cx="701.0" cy="684.2" r="3.9"/><circle cx="710.3" cy="642.2" r="3.9"/><circle cx="719.6" cy="646.0" r="3.9"/><circle cx="728.9" cy="729.9" r="3.9"/><circle cx="738.2" cy="748.0" r="3.9"/><circle cx="747.5" cy="726.7" r="3.9"/><circle cx="757.0" cy="697.7" r="3.9"/><circle cx="766.3" cy="729.0" r="3.9"/><circle cx="775.6" cy="752.7" r="3.9"/><circle cx="785.8" cy="765.8" r="3.9"/><circle cx="795.6" cy="823.0" r="3.9"/><circle cx="805.6" cy="769.7" r="3.9"/><circle cx="815.5" cy="734.6" r="3.9"/><circle cx="825.5" cy="674.2" r="3.9"/><circle cx="835.4" cy="810.3" r="3.9"/><circle cx="845.2" cy="759.2" r="3.9"/><circle cx="855.2" cy="760.4" r="3.9"/><circle cx="865.0" cy="688.9" r="3.9"/><circle cx="873.5" cy="762.0" r="3.9"/><circle cx="881.5" cy="684.7" r="3.9"/><circle cx="889.6" cy="680.3" r="3.9"/><circle cx="897.7" cy="661.0" r="3.9"/><circle cx="906.0" cy="687.0" r="3.9"/><circle cx="914.2" cy="757.0" r="3.9"/><circle cx="946.8" cy="704.5" r="3.9"/><circle cx="955.1" cy="741.2" r="3.9"/><circle cx="963.3" cy="771.4" r="3.9"/><circle cx="971.7" cy="700.2" r="3.9"/><circle cx="979.9" cy="730.7" r="3.9"/><circle cx="987.8" cy="667.2" r="3.9"/><circle cx="996.1" cy="719.7" r="3.9"/><circle cx="1004.4" cy="751.3" r="3.9"/><circle cx="1012.6" cy="662.7" r="3.9"/><circle cx="1022.2" cy="685.9" r="3.9"/><circle cx="1031.4" cy="693.6" r="3.9"/><circle cx="1040.9" cy="629.0" r="3.9"/><circle cx="1050.5" cy="707.5" r="3.9"/><circle cx="1060.0" cy="671.1" r="3.9"/><circle cx="1069.3" cy="702.6" r="3.9"/><circle cx="1078.9" cy="668.4" r="3.9"/><circle cx="1088.3" cy="676.1" r="3.9"/><circle cx="1097.9" cy="716.7" r="3.9"/><circle cx="1107.4" cy="753.7" r="3.9"/><circle cx="1115.4" cy="731.7" r="3.9"/><circle cx="1123.2" cy="764.8" r="3.9"/><circle cx="1130.8" cy="703.2" r="3.9"/><circle cx="1138.8" cy="676.7" r="3.9"/></g>
<polyline points="176.1,783.6 220.4,759.3 276.6,778.5 316.7,783.8 344.7,805.3 372.6,862.9 417.2,805.3 434.0,798.5 450.8,810.8 467.4,815.9 483.8,827.0 500.4,814.5 517.1,786.6 549.6,845.5 565.8,850.1 581.7,939.4 598.1,959.1 613.6,984.5 630.0,858.4 645.9,1015.2 670.6,995.6 679.0,966.9 687.7,950.3 696.3,863.9 704.8,965.1 713.5,987.7 721.9,1024.6 730.7,948.2 739.1,953.3 764.7,945.2 781.6,947.7 790.4,977.9 798.9,973.3 807.6,973.1 826.2,1047.1 836.2,955.3 846.0,989.2 856.0,862.5 866.2,973.6 876.0,956.2 886.1,929.1 896.3,931.6 906.1,917.7 916.2,924.1 926.2,889.0 936.2,855.5 946.4,852.5 956.2,908.0 966.4,915.5 976.1,957.9 986.3,972.3 996.3,969.9 1006.3,984.8 1016.4,878.4 1026.2,932.5 1036.4,970.8 1046.4,936.6 1056.3,958.4 1066.3,947.7 1076.3,884.0 1086.5,1006.3 1096.5,983.8 1106.5,965.7 1116.5,946.9 1126.6,999.8 1148.0,963.3" fill="none" stroke="#00CCFF" stroke-width="2" stroke-linejoin="round" stroke-linecap="round" />
<g fill="#00CCFF"><circle cx="176.1" cy="783.6" r="3.9"/><circle cx="220.4" cy="759.3" r="3.9"/><circle cx="276.6" cy="778.5" r="3.9"/><circle cx="316.7" cy="783.8" r="3.9"/><circle cx="344.7" cy="805.3" r="3.9"/><circle cx="372.6" cy="862.9" r="3.9"/><circle cx="417.2" cy="805.3" r="3.9"/><circle cx="434.0" cy="798.5" r="3.9"/><circle cx="450.8" cy="810.8" r="3.9"/><circle cx="467.4" cy="815.9" r="3.9"/><circle cx="483.8" cy="827.0" r="3.9"/><circle cx="500.4" cy="814.5" r="3.9"/><circle cx="517.1" cy="786.6" r="3.9"/><circle cx="549.6" cy="845.5" r="3.9"/><circle cx="565.8" cy="850.1" r="3.9"/><circle cx="581.7" cy="939.4" r="3.9"/><circle cx="598.1" cy="959.1" r="3.9"/><circle cx="613.6" cy="984.5" r="3.9"/><circle cx="630.0" cy="858.4" r="3.9"/><circle cx="645.9" cy="1015.2" r="3.9"/><circle cx="670.6" cy="995.6" r="3.9"/><circle cx="679.0" cy="966.9" r="3.9"/><circle cx="687.7" cy="950.3" r="3.9"/><circle cx="696.3" cy="863.9" r="3.9"/><circle cx="704.8" cy="965.1" r="3.9"/><circle cx="713.5" cy="987.7" r="3.9"/><circle cx="721.9" cy="1024.6" r="3.9"/><circle cx="730.7" cy="948.2" r="3.9"/><circle cx="739.1" cy="953.3" r="3.9"/><circle cx="764.7" cy="945.2" r="3.9"/><circle cx="781.6" cy="947.7" r="3.9"/><circle cx="790.4" cy="977.9" r="3.9"/><circle cx="798.9" cy="973.3" r="3.9"/><circle cx="807.6" cy="973.1" r="3.9"/><circle cx="826.2" cy="1047.1" r="3.9"/><circle cx="836.2" cy="955.3" r="3.9"/><circle cx="846.0" cy="989.2" r="3.9"/><circle cx="856.0" cy="862.5" r="3.9"/><circle cx="866.2" cy="973.6" r="3.9"/><circle cx="876.0" cy="956.2" r="3.9"/><circle cx="886.1" cy="929.1" r="3.9"/><circle cx="896.3" cy="931.6" r="3.9"/><circle cx="906.1" cy="917.7" r="3.9"/><circle cx="916.2" cy="924.1" r="3.9"/><circle cx="926.2" cy="889.0" r="3.9"/><circle cx="936.2" cy="855.5" r="3.9"/><circle cx="946.4" cy="852.5" r="3.9"/><circle cx="956.2" cy="908.0" r="3.9"/><circle cx="966.4" cy="915.5" r="3.9"/><circle cx="976.1" cy="957.9" r="3.9"/><circle cx="986.3" cy="972.3" r="3.9"/><circle cx="996.3" cy="969.9" r="3.9"/><circle cx="1006.3" cy="984.8" r="3.9"/><circle cx="1016.4" cy="878.4" r="3.9"/><circle cx="1026.2" cy="932.5" r="3.9"/><circle cx="1036.4" cy="970.8" r="3.9"/><circle cx="1046.4" cy="936.6" r="3.9"/><circle cx="1056.3" cy="958.4" r="3.9"/><circle cx="1066.3" cy="947.7" r="3.9"/><circle cx="1076.3" cy="884.0" r="3.9"/><circle cx="1086.5" cy="1006.3" r="3.9"/><circle cx="1096.5" cy="983.8" r="3.9"/><circle cx="1106.5" cy="965.7" r="3.9"/><circle cx="1116.5" cy="946.9" r="3.9"/><circle cx="1126.6" cy="999.8" r="3.9"/><circle cx="1148.0" cy="963.3" r="3.9"/></g>
<polyline points="176.6,966.5 276.8,926.8 316.7,1025.9 345.2,927.3 372.9,978.1 417.4,1065.8 434.0,1077.4 467.3,1115.9 484.2,983.1 500.8,1026.0 517.4,1040.4 550.1,1007.7 566.0,1142.7 582.4,1176.1 598.1,1188.8 646.3,1187.9 671.0,1223.7 679.6,1224.4 687.9,1228.6 696.5,1225.3 705.1,1235.1 713.5,1224.5 730.8,1189.0 739.5,1207.8 765.1,1187.0 782.4,1072.1 790.7,1215.9 799.3,1166.4 826.3,1215.9 846.9,1230.3 866.5,1155.5 886.3,1202.6 916.6,1186.4 936.6,1218.5 956.8,1175.0 976.8,1212.6 996.8,1186.0 1016.8,1198.5 1036.8,1210.1 1056.8,1231.6 1076.9,1167.2 1096.7,1224.5 1116.9,1176.8 1126.9,1214.3 1148.6,1182.9" fill="none" stroke="#663300" stroke-width="2.7" stroke-linejoin="round" stroke-linecap="round" />
<g fill="#663333"><circle cx="176.6" cy="966.5" r="3.7"/><circle cx="276.8" cy="926.8" r="3.7"/><circle cx="316.7" cy="1025.9" r="3.7"/><circle cx="345.2" cy="927.3" r="3.7"/><circle cx="372.9" cy="978.1" r="3.7"/><circle cx="417.4" cy="1065.8" r="3.7"/><circle cx="434.0" cy="1077.4" r="3.7"/><circle cx="467.3" cy="1115.9" r="3.7"/><circle cx="484.2" cy="983.1" r="3.7"/><circle cx="500.8" cy="1026.0" r="3.7"/><circle cx="517.4" cy="1040.4" r="3.7"/><circle cx="550.1" cy="1007.7" r="3.7"/><circle cx="566.0" cy="1142.7" r="3.7"/><circle cx="582.4" cy="1176.1" r="3.7"/><circle cx="598.1" cy="1188.8" r="3.7"/><circle cx="646.3" cy="1187.9" r="3.7"/><circle cx="671.0" cy="1223.7" r="3.7"/><circle cx="679.6" cy="1224.4" r="3.7"/><circle cx="687.9" cy="1228.6" r="3.7"/><circle cx="696.5" cy="1225.3" r="3.7"/><circle cx="705.1" cy="1235.1" r="3.7"/><circle cx="713.5" cy="1224.5" r="3.7"/><circle cx="730.8" cy="1189.0" r="3.7"/><circle cx="739.5" cy="1207.8" r="3.7"/><circle cx="765.1" cy="1187.0" r="3.7"/><circle cx="782.4" cy="1072.1" r="3.7"/><circle cx="790.7" cy="1215.9" r="3.7"/><circle cx="799.3" cy="1166.4" r="3.7"/><circle cx="826.3" cy="1215.9" r="3.7"/><circle cx="846.9" cy="1230.3" r="3.7"/><circle cx="866.5" cy="1155.5" r="3.7"/><circle cx="886.3" cy="1202.6" r="3.7"/><circle cx="916.6" cy="1186.4" r="3.7"/><circle cx="936.6" cy="1218.5" r="3.7"/><circle cx="956.8" cy="1175.0" r="3.7"/><circle cx="976.8" cy="1212.6" r="3.7"/><circle cx="996.8" cy="1186.0" r="3.7"/><circle cx="1016.8" cy="1198.5" r="3.7"/><circle cx="1036.8" cy="1210.1" r="3.7"/><circle cx="1056.8" cy="1231.6" r="3.7"/><circle cx="1076.9" cy="1167.2" r="3.7"/><circle cx="1096.7" cy="1224.5" r="3.7"/><circle cx="1116.9" cy="1176.8" r="3.7"/><circle cx="1126.9" cy="1214.3" r="3.7"/><circle cx="1148.6" cy="1182.9" r="3.7"/></g>
<polyline points="175.9,1473.2 278.6,1499.7 316.3,1443.1 345.2,1518.9 373.3,1478.9 416.7,1433.9 435.6,1424.3 468.5,1375.8 483.0,1501.7 502.0,1464.0 516.3,1454.3 549.8,1486.7 566.0,1371.2 580.5,1352.7 597.4,1337.7 644.6,1343.4 671.1,1329.9 680.7,1332.3 688.0,1282.7 697.4,1324.7 707.0,1339.5 716.2,1339.5 730.5,1373.5 738.0,1375.5 763.6,1386.6 782.8,1475.2 792.8,1347.2 802.1,1379.3 828.0,1392.4 847.5,1358.2 866.4,1358.2 885.5,1299.6 916.3,1328.1 937.5,1239.3 956.4,1343.3 978.0,1280.9 996.9,1365.9 1018.5,1309.0 1037.4,1275.1 1056.6,1258.0 1078.3,1339.8 1097.2,1290.4 1116.2,1356.4 1128.4,1294.3 1149.3,1330.1" fill="none" stroke="#FF6600" stroke-width="2" stroke-linejoin="round" stroke-linecap="round" />
<g fill="#FF6600"><circle cx="175.9" cy="1473.2" r="3.9"/><circle cx="278.6" cy="1499.7" r="3.9"/><circle cx="316.3" cy="1443.1" r="3.9"/><circle cx="345.2" cy="1518.9" r="3.9"/><circle cx="373.3" cy="1478.9" r="3.9"/><circle cx="416.7" cy="1433.9" r="3.9"/><circle cx="435.6" cy="1424.3" r="3.9"/><circle cx="468.5" cy="1375.8" r="3.9"/><circle cx="483.0" cy="1501.7" r="3.9"/><circle cx="502.0" cy="1464.0" r="3.9"/><circle cx="516.3" cy="1454.3" r="3.9"/><circle cx="549.8" cy="1486.7" r="3.9"/><circle cx="566.0" cy="1371.2" r="3.9"/><circle cx="580.5" cy="1352.7" r="3.9"/><circle cx="597.4" cy="1337.7" r="3.9"/><circle cx="644.6" cy="1343.4" r="3.9"/><circle cx="671.1" cy="1329.9" r="3.9"/><circle cx="680.7" cy="1332.3" r="3.9"/><circle cx="688.0" cy="1282.7" r="3.9"/><circle cx="697.4" cy="1324.7" r="3.9"/><circle cx="707.0" cy="1339.5" r="3.9"/><circle cx="716.2" cy="1339.5" r="3.9"/><circle cx="730.5" cy="1373.5" r="3.9"/><circle cx="738.0" cy="1375.5" r="3.9"/><circle cx="763.6" cy="1386.6" r="3.9"/><circle cx="782.8" cy="1475.2" r="3.9"/><circle cx="792.8" cy="1347.2" r="3.9"/><circle cx="802.1" cy="1379.3" r="3.9"/><circle cx="828.0" cy="1392.4" r="3.9"/><circle cx="847.5" cy="1358.2" r="3.9"/><circle cx="866.4" cy="1358.2" r="3.9"/><circle cx="885.5" cy="1299.6" r="3.9"/><circle cx="916.3" cy="1328.1" r="3.9"/><circle cx="937.5" cy="1239.3" r="3.9"/><circle cx="956.4" cy="1343.3" r="3.9"/><circle cx="978.0" cy="1280.9" r="3.9"/><circle cx="996.9" cy="1365.9" r="3.9"/><circle cx="1018.5" cy="1309.0" r="3.9"/><circle cx="1037.4" cy="1275.1" r="3.9"/><circle cx="1056.6" cy="1258.0" r="3.9"/><circle cx="1078.3" cy="1339.8" r="3.9"/><circle cx="1097.2" cy="1290.4" r="3.9"/><circle cx="1116.2" cy="1356.4" r="3.9"/><circle cx="1128.4" cy="1294.3" r="3.9"/><circle cx="1149.3" cy="1330.1" r="3.9"/></g>
<polyline points="173.8,1598.8 276.3,1572.0 314.4,1628.8 342.8,1552.8 371.2,1593.0 414.3,1638.2 433.5,1647.7 466.3,1696.8 480.9,1570.1 499.9,1608.1 514.0,1617.2 547.6,1585.0 564.3,1700.3 578.3,1719.6 595.0,1734.2 642.6,1728.5 668.5,1741.6 678.5,1739.6 685.9,1789.1 695.2,1747.5 705.1,1732.1 714.3,1732.3 728.4,1698.6 736.3,1696.7 761.7,1685.2 781.1,1596.5 790.5,1724.9 800.2,1692.8 825.9,1679.6 845.3,1713.1 864.4,1713.1 883.4,1772.0 914.7,1743.8 935.4,1832.5 954.4,1728.6 976.0,1791.1 995.0,1705.9 1016.7,1762.8 1035.7,1797.0 1054.4,1813.7 1076.1,1732.0 1095.0,1781.8 1114.0,1715.9 1126.3,1778.0 1147.3,1742.0" fill="none" stroke="#FF0000" stroke-width="2" stroke-linejoin="round" stroke-linecap="round" />
<g fill="#FF0000"><circle cx="173.8" cy="1598.8" r="4.0"/><circle cx="276.3" cy="1572.0" r="4.0"/><circle cx="314.4" cy="1628.8" r="4.0"/><circle cx="342.8" cy="1552.8" r="4.0"/><circle cx="371.2" cy="1593.0" r="4.0"/><circle cx="414.3" cy="1638.2" r="4.0"/><circle cx="433.5" cy="1647.7" r="4.0"/><circle cx="466.3" cy="1696.8" r="4.0"/><circle cx="480.9" cy="1570.1" r="4.0"/><circle cx="499.9" cy="1608.1" r="4.0"/><circle cx="514.0" cy="1617.2" r="4.0"/><circle cx="547.6" cy="1585.0" r="4.0"/><circle cx="564.3" cy="1700.3" r="4.0"/><circle cx="578.3" cy="1719.6" r="4.0"/><circle cx="595.0" cy="1734.2" r="4.0"/><circle cx="642.6" cy="1728.5" r="4.0"/><circle cx="668.5" cy="1741.6" r="4.0"/><circle cx="678.5" cy="1739.6" r="4.0"/><circle cx="685.9" cy="1789.1" r="4.0"/><circle cx="695.2" cy="1747.5" r="4.0"/><circle cx="705.1" cy="1732.1" r="4.0"/><circle cx="714.3" cy="1732.3" r="4.0"/><circle cx="728.4" cy="1698.6" r="4.0"/><circle cx="736.3" cy="1696.7" r="4.0"/><circle cx="761.7" cy="1685.2" r="4.0"/><circle cx="781.1" cy="1596.5" r="4.0"/><circle cx="790.5" cy="1724.9" r="4.0"/><circle cx="800.2" cy="1692.8" r="4.0"/><circle cx="825.9" cy="1679.6" r="4.0"/><circle cx="845.3" cy="1713.1" r="4.0"/><circle cx="864.4" cy="1713.1" r="4.0"/><circle cx="883.4" cy="1772.0" r="4.0"/><circle cx="914.7" cy="1743.8" r="4.0"/><circle cx="935.4" cy="1832.5" r="4.0"/><circle cx="954.4" cy="1728.6" r="4.0"/><circle cx="976.0" cy="1791.1" r="4.0"/><circle cx="995.0" cy="1705.9" r="4.0"/><circle cx="1016.7" cy="1762.8" r="4.0"/><circle cx="1035.7" cy="1797.0" r="4.0"/><circle cx="1054.4" cy="1813.7" r="4.0"/><circle cx="1076.1" cy="1732.0" r="4.0"/><circle cx="1095.0" cy="1781.8" r="4.0"/><circle cx="1114.0" cy="1715.9" r="4.0"/><circle cx="1126.3" cy="1778.0" r="4.0"/><circle cx="1147.3" cy="1742.0" r="4.0"/></g>
<path d="M152.9,2018.9 H264.7 V1903.2 H288.2 V1993.2 H400 V1946.1 H533.6 V1938.6 H662 V1837.2 H816.6 V1859 H1137.7" fill="none" stroke="#000" stroke-width="1.9"/>
<line x1="616.00" y1="1323.20" x2="1158.00" y2="1323.20" stroke="#0000FF" stroke-width="2" stroke-dasharray="10 9.7"/>
<line x1="168.50" y1="1629.00" x2="612.60" y2="1629.00" stroke="#0000FF" stroke-width="2" stroke-dasharray="10.4 9.25"/>
<text x="1165.20" y="1332.80" font-family="'Liberation Serif', serif" font-size="33" font-weight="normal" fill="#0000FF" text-anchor="start" >90%</text>
<text x="622.90" y="1638.50" font-family="'Liberation Serif', serif" font-size="33" font-weight="normal" fill="#0000FF" text-anchor="start" >24%</text>
<line x1="613.90" y1="4.40" x2="613.90" y2="2063.00" stroke="#000" stroke-width="3" stroke-dasharray="10 9.7"/>
</svg>
</body></html>
